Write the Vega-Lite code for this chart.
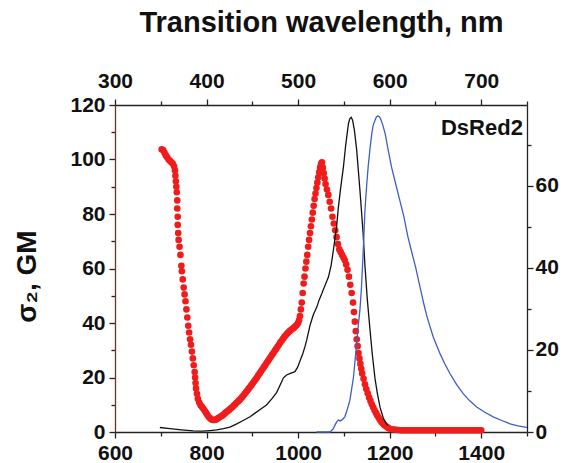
{
  "$schema": "https://vega.github.io/schema/vega-lite/v6.json",
  "width": 412,
  "height": 327,
  "autosize": {"type": "none"},
  "padding": {"left": 115, "top": 105, "right": 35, "bottom": 31},
  "background": "white",
  "config": {
    "view": {"stroke": null},
    "font": "Liberation Sans",
    "axis": {
      "labelFont": "Liberation Sans",
      "labelFontWeight": "bold",
      "labelFontSize": 21,
      "labelColor": "#111111",
      "tickColor": "#222222",
      "domainColor": "#222222",
      "domainWidth": 1.3,
      "tickWidth": 1.3,
      "titleFont": "Liberation Sans",
      "titleFontWeight": "bold",
      "titleColor": "#111111",
      "grid": false,
      "labelFlush": false,
      "labelOverlap": false
    }
  },
  "datasets": {
    "sigma": [
      {"wl":702,"s":103.7},{"wl":705,"s":103.5},{"wl":708,"s":102.5},{"wl":711,"s":101.5},{"wl":714,"s":100.8},{"wl":717,"s":100},{"wl":720,"s":99.5},{"wl":723,"s":99},{"wl":726,"s":98.5},{"wl":729,"s":97.5},{"wl":731,"s":96},{"wl":732,"s":94},{"wl":733,"s":92},{"wl":734,"s":90},{"wl":735,"s":88},{"wl":736,"s":85},{"wl":736,"s":82},{"wl":737,"s":79},{"wl":737,"s":76},{"wl":738,"s":73},{"wl":739,"s":70.5},{"wl":741,"s":68},{"wl":743,"s":65},{"wl":745,"s":61},{"wl":746,"s":59},{"wl":748,"s":56},{"wl":750,"s":53},{"wl":752,"s":50.5},{"wl":754,"s":48},{"wl":756,"s":45},{"wl":758,"s":42},{"wl":760,"s":39},{"wl":762,"s":36.5},{"wl":764,"s":34},{"wl":766,"s":32},{"wl":768,"s":29.5},{"wl":770,"s":27},{"wl":772,"s":24.5},{"wl":774,"s":22},{"wl":775,"s":20},{"wl":776,"s":18},{"wl":777,"s":16},{"wl":779,"s":14},{"wl":781,"s":12.2},{"wl":784,"s":10.8},{"wl":787,"s":9.8},{"wl":790,"s":9.2},{"wl":793,"s":8.5},{"wl":796,"s":7.8},{"wl":799,"s":7},{"wl":802,"s":6.2},{"wl":805,"s":5.5},{"wl":808,"s":5},{"wl":811,"s":4.6},{"wl":814,"s":4.4},{"wl":817,"s":4.4},{"wl":820,"s":4.5},{"wl":823,"s":4.8},{"wl":826,"s":5.1},{"wl":829,"s":5.5},{"wl":832,"s":5.8},{"wl":835,"s":6.1},{"wl":838,"s":6.5},{"wl":841,"s":7},{"wl":844,"s":7.4},{"wl":847,"s":7.8},{"wl":850,"s":8.2},{"wl":853,"s":8.7},{"wl":856,"s":9.1},{"wl":859,"s":9.6},{"wl":862,"s":10.1},{"wl":865,"s":10.6},{"wl":868,"s":11.1},{"wl":871,"s":11.6},{"wl":874,"s":12.1},{"wl":877,"s":12.7},{"wl":880,"s":13.3},{"wl":883,"s":13.9},{"wl":886,"s":14.6},{"wl":889,"s":15.2},{"wl":892,"s":15.9},{"wl":895,"s":16.5},{"wl":898,"s":17.2},{"wl":901,"s":17.9},{"wl":904,"s":18.6},{"wl":907,"s":19.3},{"wl":910,"s":20},{"wl":913,"s":20.8},{"wl":916,"s":21.5},{"wl":919,"s":22.3},{"wl":922,"s":23},{"wl":925,"s":23.8},{"wl":928,"s":24.5},{"wl":931,"s":25.3},{"wl":934,"s":26},{"wl":937,"s":26.8},{"wl":940,"s":27.5},{"wl":943,"s":28.3},{"wl":946,"s":29},{"wl":949,"s":29.8},{"wl":952,"s":30.5},{"wl":955,"s":31.3},{"wl":958,"s":32},{"wl":961,"s":32.8},{"wl":964,"s":33.5},{"wl":967,"s":34.2},{"wl":970,"s":34.9},{"wl":973,"s":35.5},{"wl":976,"s":36.1},{"wl":979,"s":36.6},{"wl":982,"s":37.1},{"wl":985,"s":37.5},{"wl":988,"s":37.9},{"wl":991,"s":38.3},{"wl":994,"s":38.8},{"wl":997,"s":39.3},{"wl":1000,"s":40},{"wl":1002,"s":41},{"wl":1004,"s":42.5},{"wl":1006,"s":45},{"wl":1008,"s":47.5},{"wl":1010,"s":51},{"wl":1012,"s":54.5},{"wl":1014,"s":57},{"wl":1016,"s":60},{"wl":1018,"s":62.5},{"wl":1020,"s":65},{"wl":1022,"s":68},{"wl":1024,"s":70.5},{"wl":1026,"s":73},{"wl":1028,"s":75.5},{"wl":1030,"s":78},{"wl":1032,"s":80.5},{"wl":1034,"s":83},{"wl":1036,"s":85.5},{"wl":1038,"s":87.5},{"wl":1040,"s":89.5},{"wl":1042,"s":91.5},{"wl":1044,"s":93.5},{"wl":1046,"s":95.3},{"wl":1048,"s":97},{"wl":1050,"s":98.3},{"wl":1052,"s":99},{"wl":1054,"s":97},{"wl":1056,"s":95},{"wl":1058,"s":93},{"wl":1060,"s":91},{"wl":1063,"s":89},{"wl":1066,"s":87},{"wl":1069,"s":84.5},{"wl":1072,"s":82},{"wl":1075,"s":79},{"wl":1078,"s":76.5},{"wl":1081,"s":74},{"wl":1084,"s":71.5},{"wl":1087,"s":69},{"wl":1090,"s":67},{"wl":1093,"s":66},{"wl":1096,"s":65},{"wl":1099,"s":64},{"wl":1102,"s":63},{"wl":1105,"s":61.5},{"wl":1108,"s":59.5},{"wl":1111,"s":57},{"wl":1114,"s":54},{"wl":1117,"s":51},{"wl":1120,"s":47.5},{"wl":1122,"s":44},{"wl":1124,"s":40.5},{"wl":1126,"s":37},{"wl":1128,"s":34},{"wl":1130,"s":31.5},{"wl":1132,"s":29},{"wl":1134,"s":27},{"wl":1136,"s":25},{"wl":1138,"s":23.2},{"wl":1140,"s":21.5},{"wl":1143,"s":19.5},{"wl":1146,"s":17.5},{"wl":1149,"s":15.8},{"wl":1152,"s":14.2},{"wl":1155,"s":12.7},{"wl":1158,"s":11.4},{"wl":1161,"s":10.2},{"wl":1164,"s":9.1},{"wl":1167,"s":8},{"wl":1170,"s":7},{"wl":1173,"s":6.1},{"wl":1176,"s":5.2},{"wl":1179,"s":4.4},{"wl":1182,"s":3.7},{"wl":1185,"s":3.1},{"wl":1188,"s":2.6},{"wl":1191,"s":2.2},{"wl":1194,"s":1.8},{"wl":1197,"s":1.5},{"wl":1200,"s":1.2},{"wl":1205,"s":1},{"wl":1210,"s":0.9},{"wl":1215,"s":0.8},{"wl":1220,"s":0.7},{"wl":1225,"s":0.6},{"wl":1230,"s":0.6},{"wl":1235,"s":0.6},{"wl":1240,"s":0.6},{"wl":1245,"s":0.6},{"wl":1250,"s":0.6},{"wl":1255,"s":0.6},{"wl":1260,"s":0.6},{"wl":1265,"s":0.6},{"wl":1270,"s":0.6},{"wl":1275,"s":0.6},{"wl":1280,"s":0.6},{"wl":1285,"s":0.6},{"wl":1290,"s":0.6},{"wl":1295,"s":0.6},{"wl":1300,"s":0.6},{"wl":1305,"s":0.6},{"wl":1310,"s":0.6},{"wl":1315,"s":0.6},{"wl":1320,"s":0.6},{"wl":1325,"s":0.6},{"wl":1330,"s":0.6},{"wl":1335,"s":0.6},{"wl":1340,"s":0.6},{"wl":1345,"s":0.6},{"wl":1350,"s":0.6},{"wl":1355,"s":0.6},{"wl":1360,"s":0.6},{"wl":1365,"s":0.6},{"wl":1370,"s":0.6},{"wl":1375,"s":0.6},{"wl":1380,"s":0.6},{"wl":1385,"s":0.6},{"wl":1390,"s":0.6},{"wl":1395,"s":0.6},{"wl":1400,"s":0.6}
    ],
    "spectra": [
      {"series":"absorption","wl":698,"v":1.1},{"series":"absorption","wl":720,"v":0.8},{"series":"absorption","wl":745,"v":0.5},{"series":"absorption","wl":771,"v":0.25},{"series":"absorption","wl":790,"v":0.2},{"series":"absorption","wl":808,"v":0.35},{"series":"absorption","wl":822,"v":0.5},{"series":"absorption","wl":837,"v":0.8},{"series":"absorption","wl":851,"v":1.2},{"series":"absorption","wl":866,"v":2.0},{"series":"absorption","wl":880,"v":2.8},{"series":"absorption","wl":895,"v":3.7},{"series":"absorption","wl":906,"v":4.6},{"series":"absorption","wl":917,"v":5.5},{"series":"absorption","wl":931,"v":6.6},{"series":"absorption","wl":942,"v":8},{"series":"absorption","wl":953,"v":9.6},{"series":"absorption","wl":961,"v":11.5},{"series":"absorption","wl":968,"v":13.2},{"series":"absorption","wl":975,"v":13.9},{"series":"absorption","wl":983,"v":14.3},{"series":"absorption","wl":993,"v":14.7},{"series":"absorption","wl":999,"v":15.8},{"series":"absorption","wl":1004,"v":17.3},{"series":"absorption","wl":1010,"v":19},{"series":"absorption","wl":1015,"v":20.8},{"series":"absorption","wl":1019,"v":22.5},{"series":"absorption","wl":1026,"v":26},{"series":"absorption","wl":1033,"v":28.5},{"series":"absorption","wl":1041,"v":30.5},{"series":"absorption","wl":1046,"v":32.2},{"series":"absorption","wl":1052,"v":33.8},{"series":"absorption","wl":1059,"v":35.8},{"series":"absorption","wl":1066,"v":37.7},{"series":"absorption","wl":1072,"v":40.5},{"series":"absorption","wl":1077,"v":44.3},{"series":"absorption","wl":1081,"v":47.5},{"series":"absorption","wl":1084,"v":50},{"series":"absorption","wl":1088,"v":54.8},{"series":"absorption","wl":1093,"v":59.5},{"series":"absorption","wl":1099,"v":64.6},{"series":"absorption","wl":1104,"v":70},{"series":"absorption","wl":1110,"v":75.2},{"series":"absorption","wl":1113,"v":76.4},{"series":"absorption","wl":1116,"v":76.7},{"series":"absorption","wl":1119,"v":76},{"series":"absorption","wl":1123,"v":73.5},{"series":"absorption","wl":1128,"v":68.7},{"series":"absorption","wl":1131,"v":64.5},{"series":"absorption","wl":1135,"v":59},{"series":"absorption","wl":1139,"v":53},{"series":"absorption","wl":1142,"v":48.4},{"series":"absorption","wl":1146,"v":40.5},{"series":"absorption","wl":1151,"v":32.5},{"series":"absorption","wl":1157,"v":25},{"series":"absorption","wl":1162,"v":19},{"series":"absorption","wl":1168,"v":13},{"series":"absorption","wl":1173,"v":9.5},{"series":"absorption","wl":1179,"v":6},{"series":"absorption","wl":1186,"v":3.4},{"series":"absorption","wl":1193,"v":2},{"series":"absorption","wl":1196,"v":1.6},
      {"series":"emission","wl":1040,"v":0},{"series":"emission","wl":1070,"v":0},{"series":"emission","wl":1077,"v":0.8},{"series":"emission","wl":1081,"v":1.8},{"series":"emission","wl":1084,"v":2.4},{"series":"emission","wl":1088,"v":2.9},{"series":"emission","wl":1092,"v":2.7},{"series":"emission","wl":1095,"v":2.9},{"series":"emission","wl":1099,"v":3.3},{"series":"emission","wl":1102,"v":3.7},{"series":"emission","wl":1106,"v":5},{"series":"emission","wl":1110,"v":6.5},{"series":"emission","wl":1113,"v":7.7},{"series":"emission","wl":1117,"v":10.5},{"series":"emission","wl":1121,"v":13.4},{"series":"emission","wl":1124,"v":17},{"series":"emission","wl":1128,"v":21.6},{"series":"emission","wl":1131,"v":25.5},{"series":"emission","wl":1135,"v":29.7},{"series":"emission","wl":1138,"v":34.5},{"series":"emission","wl":1140,"v":39},{"series":"emission","wl":1143,"v":46},{"series":"emission","wl":1146,"v":54},{"series":"emission","wl":1150,"v":60.5},{"series":"emission","wl":1153,"v":64.6},{"series":"emission","wl":1157,"v":69},{"series":"emission","wl":1161,"v":72.8},{"series":"emission","wl":1164,"v":74.8},{"series":"emission","wl":1168,"v":76},{"series":"emission","wl":1171,"v":76.8},{"series":"emission","wl":1174,"v":77},{"series":"emission","wl":1177,"v":76.9},{"series":"emission","wl":1180,"v":76.4},{"series":"emission","wl":1185,"v":74.8},{"series":"emission","wl":1190,"v":72.8},{"series":"emission","wl":1197,"v":68.6},{"series":"emission","wl":1204,"v":64.6},{"series":"emission","wl":1213,"v":60.5},{"series":"emission","wl":1222,"v":56.5},{"series":"emission","wl":1231,"v":52.5},{"series":"emission","wl":1240,"v":47.5},{"series":"emission","wl":1249,"v":43.5},{"series":"emission","wl":1257,"v":40},{"series":"emission","wl":1266,"v":35.5},{"series":"emission","wl":1274,"v":31.5},{"series":"emission","wl":1281,"v":28.3},{"series":"emission","wl":1295,"v":23.2},{"series":"emission","wl":1310,"v":19.1},{"series":"emission","wl":1320,"v":16.7},{"series":"emission","wl":1332,"v":14.2},{"series":"emission","wl":1346,"v":11.6},{"series":"emission","wl":1361,"v":9.3},{"series":"emission","wl":1375,"v":7.6},{"series":"emission","wl":1390,"v":6.1},{"series":"emission","wl":1408,"v":4.8},{"series":"emission","wl":1426,"v":3.7},{"series":"emission","wl":1445,"v":2.8},{"series":"emission","wl":1463,"v":2.0},{"series":"emission","wl":1480,"v":1.5},{"series":"emission","wl":1496,"v":1.2},{"series":"emission","wl":1500,"v":1.1}
    ],
    "labels": [
      {"text":"DsRed2","wl":1491,"s":109}
    ]
  },
  "layer": [
    {
      "data": {"name": "sigma"},
      "mark": {"type": "point", "filled": true, "size": 44, "color": "#f01c1c", "opacity": 1},
      "encoding": {
        "x": {
          "field": "wl", "type": "quantitative",
          "scale": {"domain": [600, 1500], "nice": false, "zero": false},
          "axis": {
            "orient": "bottom",
            "title": null,
            "values": [600,700,800,900,1000,1100,1200,1300,1400,1500],
            "format": "d",
            "labelExpr": "datum.value % 200 == 0 && datum.value < 1500 ? datum.label : ''",
            "tickSize": {"condition": {"test": "datum.value % 200 == 0", "value": 6}, "value": 4},
            "labelPadding": 4
          }
        },
        "y": {
          "field": "s", "type": "quantitative",
          "scale": {"domain": [0, 120], "nice": false},
          "axis": {
            "orient": "left",
            "values": [0,10,20,30,40,50,60,70,80,90,100,110,120],
            "format": "d",
            "labelExpr": "datum.value % 20 == 0 ? datum.label : ''",
            "tickSize": {"condition": {"test": "datum.value % 20 == 0", "value": 6}, "value": 4},
            "labelPadding": 4,
            "domainColor": "#6a3520",
            "title": "σ₂, GM",
            "titleFontSize": 28,
            "titleAngle": 270,
            "titleAlign": "center",
            "titleBaseline": "alphabetic",
            "titleX": -80,
            "titleY": 171
          }
        }
      }
    },
    {
      "data": {"name": "spectra"},
      "mark": {"type": "line", "strokeWidth": 1.3},
      "encoding": {
        "x": {
          "field": "wl", "type": "quantitative",
          "scale": {"domain": [600, 1500], "nice": false, "zero": false},
          "axis": {
            "orient": "top",
            "values": [600,700,800,900,1000,1100,1200,1300,1400,1500],
            "labelExpr": "datum.value % 200 == 0 && datum.value < 1500 ? format(datum.value / 2, 'd') : ''",
            "tickSize": {"condition": {"test": "datum.value % 200 == 0", "value": 6}, "value": 4},
            "labelPadding": 8,
            "title": "Transition wavelength, nm",
            "titleFontSize": 29,
            "titleAlign": "center",
            "titleBaseline": "alphabetic",
            "titleX": 206,
            "titleY": -74
          }
        },
        "y": {
          "field": "v", "type": "quantitative",
          "scale": {"domain": [0, 79.7], "nice": false},
          "axis": {
            "orient": "right",
            "title": null,
            "values": [0,10,20,30,40,50,60,70],
            "format": "d",
            "labelExpr": "datum.value % 20 == 0 ? datum.label : ''",
            "tickSize": {"condition": {"test": "datum.value % 20 == 0", "value": 6}, "value": 4},
            "labelPadding": 2
          }
        },
        "color": {
          "field": "series", "type": "nominal",
          "scale": {"domain": ["absorption", "emission"], "range": ["#111111", "#3f5fbf"]},
          "legend": null
        }
      }
    },
    {
      "data": {"name": "labels"},
      "mark": {"type": "text", "align": "right", "baseline": "alphabetic", "font": "Liberation Sans", "fontWeight": "bold", "fontSize": 22, "color": "#111111"},
      "encoding": {
        "x": {"field": "wl", "type": "quantitative", "scale": {"domain": [600, 1500], "nice": false, "zero": false}, "axis": null},
        "y": {"field": "s", "type": "quantitative", "scale": {"domain": [0, 120], "nice": false}, "axis": null},
        "text": {"field": "text"}
      }
    }
  ],
  "resolve": {
    "scale": {"x": "independent", "y": "independent"},
    "axis": {"x": "independent", "y": "independent"}
  }
}
